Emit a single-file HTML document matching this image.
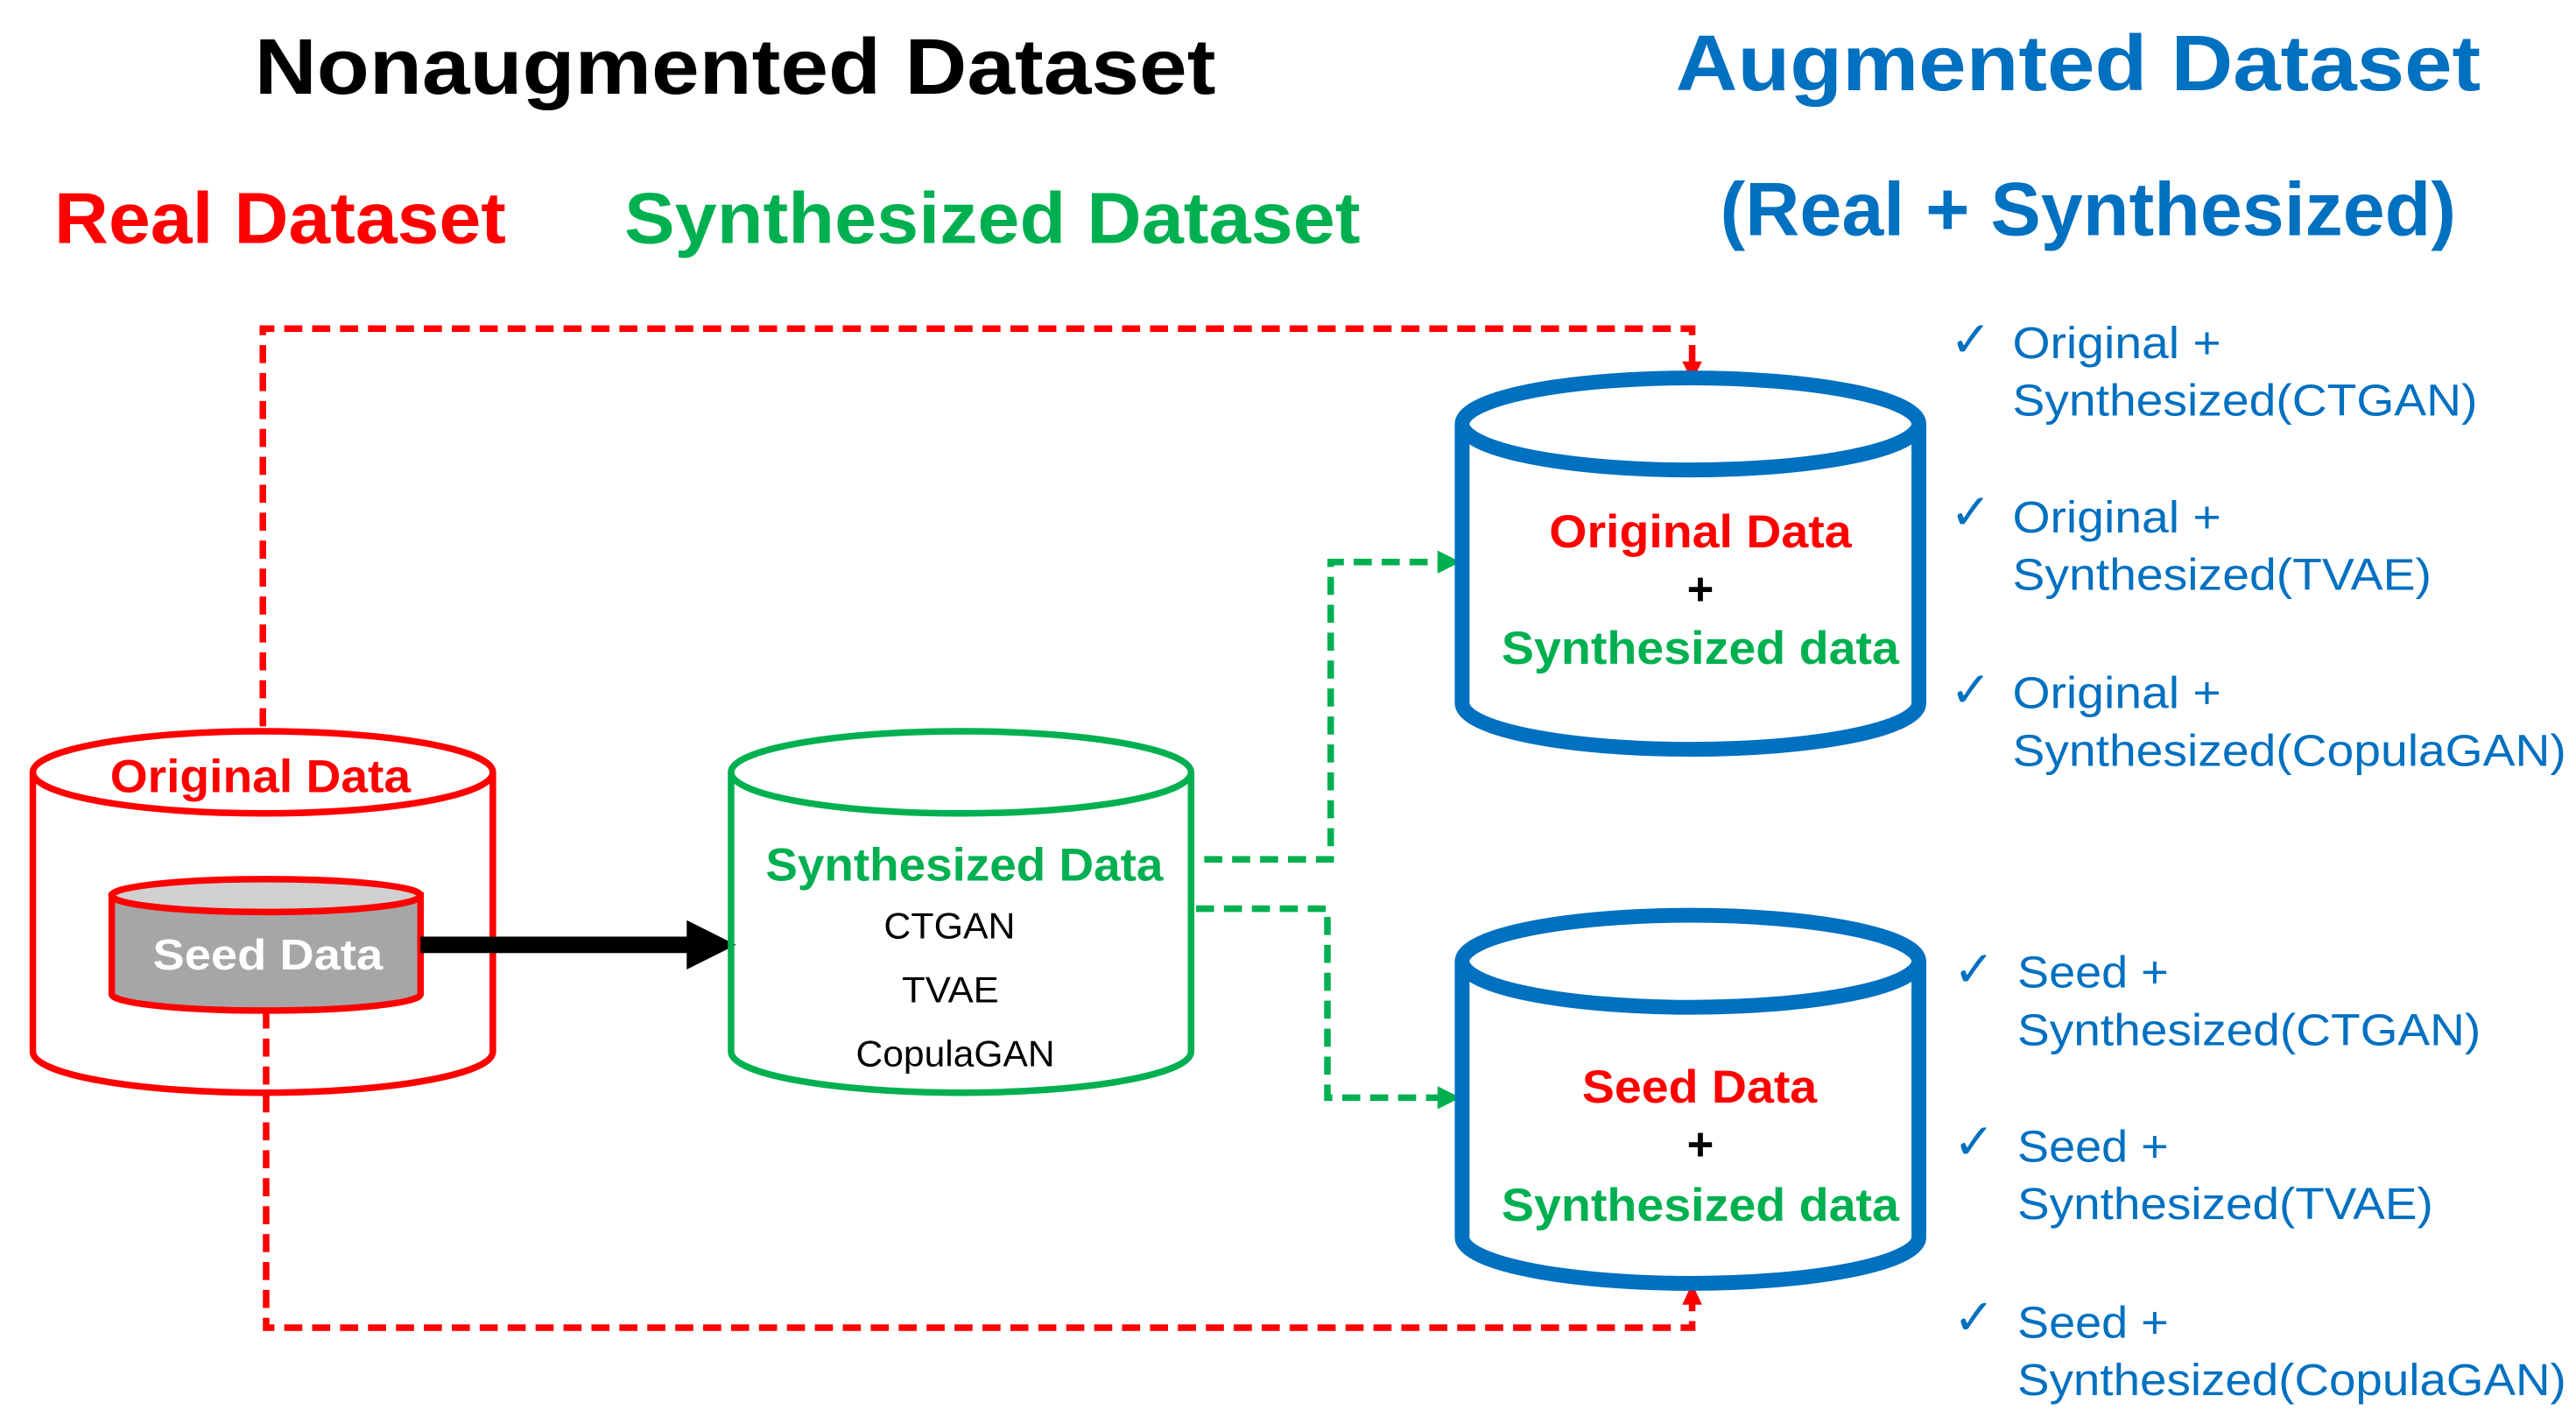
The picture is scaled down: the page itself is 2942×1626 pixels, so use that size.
<!DOCTYPE html>
<html><head><meta charset="utf-8"><style>html,body{margin:0;padding:0;background:#fff}svg{display:block}</style></head>
<body>
<svg width="2942" height="1626" viewBox="0 0 1568 866.6" xmlns="http://www.w3.org/2000/svg" font-family="Liberation Sans, Arial, sans-serif">
<!-- titles -->
<g font-weight="bold">
<text x="155" y="57" font-size="48" textLength="585" lengthAdjust="spacingAndGlyphs" fill="#000">Nonaugmented Dataset</text>
<text x="1020" y="55" font-size="48" textLength="490" lengthAdjust="spacingAndGlyphs" fill="#0070C0">Augmented Dataset</text>
<text x="1047" y="143" font-size="46" textLength="448" lengthAdjust="spacingAndGlyphs" fill="#0070C0">(Real + Synthesized)</text>
<text x="33" y="148" font-size="44" textLength="275" lengthAdjust="spacingAndGlyphs" fill="#f00">Real Dataset</text>
<text x="380" y="148" font-size="44" textLength="448" lengthAdjust="spacingAndGlyphs" fill="#00B050">Synthesized Dataset</text>
</g>
<!-- red dashed connectors -->
<path d="M160,442 V200 H1030 V222" fill="none" stroke="#f00" stroke-width="4" stroke-dasharray="11,6"/>
<path d="M1024,220 L1036,220 L1030,232 z" fill="#f00"/>
<path d="M162,615 V808 H1030 V792" fill="none" stroke="#f00" stroke-width="4" stroke-dasharray="11,6"/>
<path d="M1024,794 L1036,794 L1030,781 z" fill="#f00"/>
<!-- green dashed -->
<path d="M733,523 H810 V342 H878" fill="none" stroke="#00B050" stroke-width="4" stroke-dasharray="11,6"/>
<path d="M875,335 L889,342 L875,349 z" fill="#00B050"/>
<path d="M728,553 H808 V668 H878" fill="none" stroke="#00B050" stroke-width="4" stroke-dasharray="11,6"/>
<path d="M875,661 L889,668 L875,675 z" fill="#00B050"/>
<!-- Original cylinder -->
<g fill="none" stroke="#f00" stroke-width="4">
<path d="M20,470 V640 A140,25 0 0 0 300,640 V470"/>
<ellipse cx="160" cy="470" rx="140" ry="25" fill="#fff"/>
</g>
<text x="67" y="482" font-size="28" font-weight="bold" fill="#f00" textLength="183" lengthAdjust="spacingAndGlyphs">Original Data</text>
<!-- Seed cylinder -->
<path d="M68,545 V605 A94,10 0 0 0 256,605 V545 z" fill="#a6a6a6" stroke="#f00" stroke-width="4"/>
<ellipse cx="162" cy="545" rx="94" ry="10" fill="#d0d0d0" stroke="#f00" stroke-width="4"/>
<text x="93" y="590" font-size="26" font-weight="bold" fill="#fff" textLength="140" lengthAdjust="spacingAndGlyphs">Seed Data</text>
<!-- black arrow -->
<rect x="256" y="570" width="165" height="10" fill="#000"/>
<path d="M418,560 L448,575 L418,590 z" fill="#000"/>
<!-- Synth cylinder -->
<g fill="none" stroke="#00B050" stroke-width="4">
<path d="M445,470 V640 A140,25 0 0 0 725,640 V470"/>
<ellipse cx="585" cy="470" rx="140" ry="25" fill="#fff"/>
</g>
<text x="466" y="536" font-size="28" font-weight="bold" fill="#00B050" textLength="242" lengthAdjust="spacingAndGlyphs">Synthesized Data</text>
<g font-size="22" fill="#000">
<text x="538" y="571" textLength="80" lengthAdjust="spacingAndGlyphs">CTGAN</text>
<text x="549" y="610" textLength="59" lengthAdjust="spacingAndGlyphs">TVAE</text>
<text x="521" y="649" textLength="121" lengthAdjust="spacingAndGlyphs">CopulaGAN</text>
</g>
<!-- blue cylinders -->
<g fill="none" stroke="#0070C0" stroke-width="9">
<path d="M890,258 V428 A139,28 0 0 0 1168,428 V258"/>
<ellipse cx="1029" cy="258" rx="139" ry="28" fill="#fff"/>
<path d="M890,585 V753 A139,28 0 0 0 1168,753 V585"/>
<ellipse cx="1029" cy="585" rx="139" ry="28" fill="#fff"/>
</g>
<g font-size="28" font-weight="bold">
<text x="943" y="333" fill="#f00" textLength="184" lengthAdjust="spacingAndGlyphs">Original Data</text>
<text x="1035" y="368" fill="#000" text-anchor="middle">+</text>
<text x="914" y="404" fill="#00B050" textLength="242" lengthAdjust="spacingAndGlyphs">Synthesized data</text>
<text x="963" y="671" fill="#f00" textLength="143" lengthAdjust="spacingAndGlyphs">Seed Data</text>
<text x="1035" y="706" fill="#000" text-anchor="middle">+</text>
<text x="914" y="743" fill="#00B050" textLength="242" lengthAdjust="spacingAndGlyphs">Synthesized data</text>
</g>
<!-- list -->
<g font-size="27" fill="#0070C0">
<text x="1187" y="217" font-size="30">✓</text>
<text x="1225" y="218" textLength="127" lengthAdjust="spacingAndGlyphs">Original +</text>
<text x="1225" y="253" textLength="283" lengthAdjust="spacingAndGlyphs">Synthesized(CTGAN)</text>
<text x="1187" y="322" font-size="30">✓</text>
<text x="1225" y="324" textLength="127" lengthAdjust="spacingAndGlyphs">Original +</text>
<text x="1225" y="359" textLength="255" lengthAdjust="spacingAndGlyphs">Synthesized(TVAE)</text>
<text x="1187" y="430" font-size="30">✓</text>
<text x="1225" y="431" textLength="127" lengthAdjust="spacingAndGlyphs">Original +</text>
<text x="1225" y="466" textLength="337" lengthAdjust="spacingAndGlyphs">Synthesized(CopulaGAN)</text>
<text x="1189" y="600" font-size="30">✓</text>
<text x="1228" y="601" textLength="92" lengthAdjust="spacingAndGlyphs">Seed +</text>
<text x="1228" y="636" textLength="282" lengthAdjust="spacingAndGlyphs">Synthesized(CTGAN)</text>
<text x="1189" y="705" font-size="30">✓</text>
<text x="1228" y="707" textLength="92" lengthAdjust="spacingAndGlyphs">Seed +</text>
<text x="1228" y="742" textLength="253" lengthAdjust="spacingAndGlyphs">Synthesized(TVAE)</text>
<text x="1189" y="812" font-size="30">✓</text>
<text x="1228" y="814" textLength="92" lengthAdjust="spacingAndGlyphs">Seed +</text>
<text x="1228" y="849" textLength="334" lengthAdjust="spacingAndGlyphs">Synthesized(CopulaGAN)</text>
</g>
</svg>
</body></html>
